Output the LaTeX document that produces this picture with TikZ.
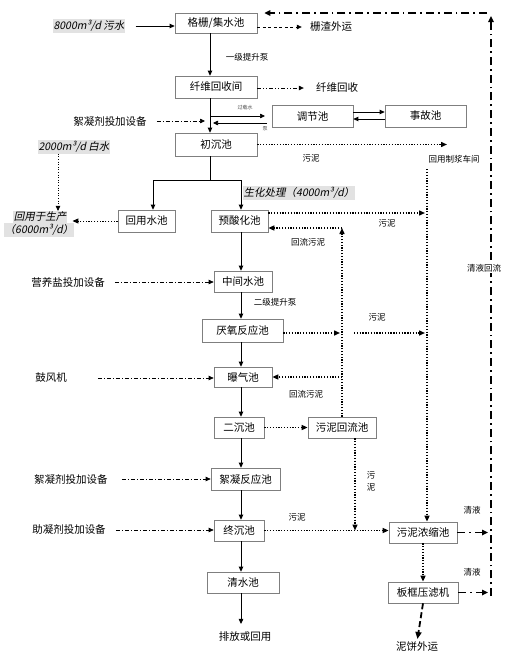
\documentclass[tikz,border=0pt]{standalone}
\usepackage{fontspec}
\setmainfont{Noto Sans CJK SC}
\newfontfamily\slfont{Noto Sans CJK SC}[FakeSlant=0.2]
\usetikzlibrary{arrows.meta}
\definecolor{boxgray}{HTML}{7F7F7F}
\definecolor{hlgray}{HTML}{E2E2E2}
\begin{document}
\begin{tikzpicture}[x=1pt,y=-1pt,
  box/.style={draw=boxgray, line width=0.7pt, inner sep=0pt, font=\fontsize{10.5}{12}\selectfont},
  txt/.style={inner sep=0pt, font=\fontsize{10.5}{12}\selectfont},
  lbl/.style={inner sep=0pt, font=\fontsize{8.5}{10}\selectfont},
  tiny/.style={inner sep=0pt, font=\fontsize{5}{6}\selectfont, text=black!70},
  hl/.style={fill=hlgray, inner sep=1pt, font=\slfont\fontsize{10.5}{12}\selectfont},
  tip/.style={-{Triangle[length=5pt,width=4.5pt]}},
  ln/.style={line width=0.9pt},
  arr/.style={ln, tip},
  dd/.style={line width=0.7pt, dash pattern=on 4pt off 2pt on 1pt off 2pt, tip},
  ddd/.style={line width=0.7pt, dash pattern=on 4pt off 2pt on 1pt off 2pt on 1pt off 2pt, tip},
  dsh/.style={line width=0.7pt, dash pattern=on 3pt off 2.5pt, tip},
  sl/.style={line width=1.4pt, dash pattern=on 1.3pt off 1.5pt, -{Triangle[length=6pt,width=5pt]}},
  ret/.style={line width=1.7pt, dash pattern=on 8pt off 4pt on 1.7pt off 4pt},
  rettip/.style={ret, -{Triangle[length=6pt,width=5.5pt]}},
  thd/.style={line width=1.8pt, dash pattern=on 6pt off 3pt, -{Triangle[length=7pt,width=6pt]}}
]
\useasboundingbox (0,0) rectangle (508,657);
\fill[white] (0,0) rectangle (508,657);

% boxes
\node[box, minimum width=82, minimum height=20] (gs) at (216,23) {格栅/集水池};
\node[box, minimum width=82, minimum height=22] (fw) at (216,87) {纤维回收间};
\node[box, minimum width=81, minimum height=22] (tj) at (312.5,116) {调节池};
\node[box, minimum width=81, minimum height=22] (sg) at (425.5,116) {事故池};
\node[box, minimum width=82, minimum height=23] (cc) at (216,144.5) {初沉池};
\node[box, minimum width=57, minimum height=22] (hy) at (146.5,221) {回用水池};
\node[box, minimum width=57, minimum height=22] (ys) at (239.5,221) {预酸化池};
\node[box, minimum width=58, minimum height=21] (zj) at (243,281.5) {中间水池};
\node[box, minimum width=81, minimum height=23] (yy) at (242.5,330.5) {厌氧反应池};
\node[box, minimum width=58, minimum height=20] (bq) at (243,377) {曝气池};
\node[box, minimum width=50, minimum height=21] (ec) at (239,427.5) {二沉池};
\node[box, minimum width=68, minimum height=21] (hl) at (342,427.5) {污泥回流池};
\node[box, minimum width=69, minimum height=22] (xn) at (245.5,479) {絮凝反应池};
\node[box, minimum width=50, minimum height=21] (zc) at (239,530.5) {终沉池};
\node[box, minimum width=72, minimum height=21] (qs) at (243,582.5) {清水池};
\node[box, minimum width=68, minimum height=21] (nd) at (423,532.5) {污泥浓缩池};
\node[box, minimum width=70, minimum height=21] (bk) at (423,592.5) {板框压滤机};

% texts
\node[hl] (in1) at (89,26) {8000m³/d 污水};
\node[txt] (out) at (245,637) {排放或回用};
\node[txt] (zhaz) at (331,27) {栅渣外运};
\node[txt] (xwhs) at (337,88) {纤维回收};
\node[lbl] (tsb1) at (247,57) {一级提升泵};
\node[tiny] (gzs) at (245,108) {过载水};
\node[tiny] (beng) at (265,129) {泵};
\node[txt] (xnj1) at (110,121) {絮凝剂投加设备};
\node[hl] (bs) at (74,147) {2000m³/d 白水};
\node[hl] (hyt1) at (40,217) {回用于生产};
\node[hl] (hyt2) at (39,230) {（6000m³/d）};
\node[hl] (shcl) at (299,193) {生化处理（4000m³/d）};
\node[lbl] (wn1) at (311,158) {污泥};
\node[lbl] (hyzj) at (454,159) {回用制浆车间};
\node[lbl] (wn2) at (387,223) {污泥};
\node[lbl] (hlwn1) at (308,242) {回流污泥};
\node[txt] (yyy) at (68,282) {营养盐投加设备};
\node[lbl] (tsb2) at (275,302) {二级提升泵};
\node[lbl] (wn3) at (377,317) {污泥};
\node[txt] (gfj) at (51,378) {鼓风机};
\node[lbl] (hlwn2) at (306,394) {回流污泥};
\node[lbl, align=center] (wn4) at (371,481) {污\\[2pt]泥};
\node[txt] (xnj2) at (71,479) {絮凝剂投加设备};
\node[txt] (znj) at (69,530) {助凝剂投加设备};
\node[lbl] (wn5) at (297,517) {污泥};
\node[lbl] (qy1) at (472,510) {清液};
\node[lbl] (qy2) at (472,572) {清液};
\node[txt] (nbwy) at (417,647) {泥饼外运};

% coordinates
\coordinate (c1) at (210,0);
\coordinate (c2) at (241,0);
\coordinate (ov1) at (210,116);
\coordinate (ov2) at (265,116);
\coordinate (pb1) at (267,123);
\coordinate (pb2) at (213,123);
\coordinate (sp) at (210,180);
\coordinate (sl) at (153,180);
\coordinate (sr) at (241,180);
\coordinate (vx) at (427,0);
\coordinate (s1) at (447,144.5);
\coordinate (y213) at (0,213);
\coordinate (rc) at (342,228);
\coordinate (y333) at (0,333);
\coordinate (hx) at (355,0);
\coordinate (rx) at (491,0);
\coordinate (rb) at (491,596);
\coordinate (rt) at (491,16);
\coordinate (top) at (487,13);

% main solid flow
\draw[arr] ([xshift=10pt]in1.east) -- (gs.west |- in1.east);
\draw[arr] (gs.south -| c1) -- (fw.north -| c1);
\draw[arr] (fw.south -| c1) -- (cc.north -| c1);
\draw[ln, line width=0.7pt, tip] (ov1) -- (ov2);
\draw[ln, line width=0.7pt, tip] (pb1) -- (pb2);
\draw[arr] ([yshift=4pt]tj.east) -- ([yshift=4pt]sg.west);
\draw[arr] ([yshift=-3pt]sg.west) -- ([yshift=-3pt]tj.east);
\draw[ln] (cc.south -| c1) -- (sp);
\draw[ln] (sl) -- (sr);
\draw[arr] (sl) -- (hy.north -| sl);
\draw[arr] (sr) -- (ys.north -| sr);
\draw[arr] (ys.south -| c2) -- (zj.north -| c2);
\draw[arr] (zj.south -| c2) -- (yy.north -| c2);
\draw[arr] (yy.south -| c2) -- (bq.north -| c2);
\draw[arr] (bq.south -| c2) -- (ec.north -| c2);
\draw[arr] (ec.south -| c2) -- (xn.north -| c2);
\draw[arr] (xn.south -| c2) -- (zc.north -| c2);
\draw[arr] (zc.south -| c2) -- (qs.north -| c2);
\draw[arr, shorten >=8pt] (qs.south -| c2) -- (out.north -| c2);

% by-products
\draw[dsh] (gs.east |- zhaz) -- ([xshift=-8pt]zhaz.west);
\draw[ddd] (fw.east |- xwhs) -- ([xshift=-12pt]xwhs.west);

% additives
\draw[dd] ([xshift=10pt]xnj1.east) -- ([xshift=-5pt]c1 |- xnj1.east);
\draw[dd] ([xshift=10pt]yyy.east) -- (zj.west |- yyy.east);
\draw[dd] ([xshift=31pt]gfj.east) -- (bq.west |- gfj.east);
\draw[dd] ([xshift=14pt]xnj2.east) -- (xn.west |- xnj2.east);
\draw[dd] ([xshift=10pt]znj.east) -- (zc.west |- znj.east);

% white water
\draw[line width=0.6pt, dotted, tip] ([xshift=-16pt]bs.south) -- ([xshift=18pt]hyt1.north);
\draw[sl, line width=1pt] (hy.west) -- ([xshift=5pt]hyt1.east |- hy.west);

% sludge lines
\draw[sl] (cc.east) -- (s1);
\draw[sl] ([yshift=-6pt]hyzj.south -| vx) -- (nd.north -| vx);
\draw[sl, shorten >=2pt] (ys.east |- y213) -- (vx |- y213);
\draw[sl] (hl.north -| rc) -- (rc);
\draw[sl] (rc) -- (ys.east |- rc);
\draw[sl, shorten >=2pt] (yy.east |- y333) -- (rc |- y333);
\draw[sl, shorten >=2pt] ([xshift=12pt]rc |- y333) -- (vx |- y333);
\draw[sl] (rc |- bq.east) -- (bq.east);
\draw[sl] (ec.east) -- (hl.west);
\draw[sl] (hl.south -| hx) -- (hx |- zc.east);
\draw[sl] (zc.east) -- (nd.west |- zc.east);
\draw[sl] (nd.south) -- (bk.north);
\draw[thd, shorten >=3pt] (bk.south) -- (nbwy.north);

% clear liquid return
\draw[rettip] (nd.east) -- ([xshift=-3pt]rx |- nd.east);
\draw[rettip] (bk.east) -- ([xshift=-3pt]rx |- bk.east);
\draw[rettip] (rb) -- (rt);
\draw[rettip] (top) -- ([xshift=7pt]gs.east |- top);
\node[lbl, fill=white, inner sep=1pt] (qyhl) at (484,268) {清液回流};
\end{tikzpicture}
\end{document}
